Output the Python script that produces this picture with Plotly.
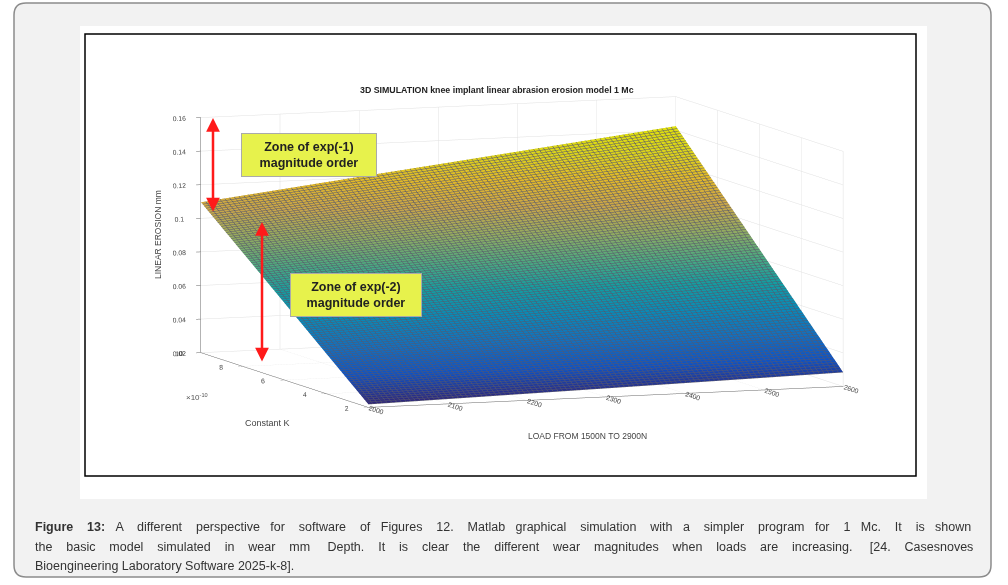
#######################################################################################################################
# Title:        Knee implant linear abrasion erosion - 3D surface (Figure 13 recreation)
#######################################################################################################################
import plotly.graph_objects as go

#######################################################################################################################
# Data
#######################################################################################################################
# load axis (N)
load = [2000, 2100, 2200, 2300, 2400, 2500, 2600]

# constant K (x 1e-10)
constK = [2, 4, 6, 8, 10]

# linear erosion (mm), rows = constK, cols = load
erosion = [
    [0.0219, 0.0230, 0.0241, 0.0252, 0.0263, 0.0274, 0.0285],
    [0.0438, 0.0460, 0.0482, 0.0504, 0.0526, 0.0548, 0.0570],
    [0.0658, 0.0690, 0.0723, 0.0756, 0.0789, 0.0822, 0.0855],
    [0.0877, 0.0921, 0.0964, 0.1008, 0.1052, 0.1096, 0.1140],
    [0.1096, 0.1151, 0.1206, 0.1260, 0.1315, 0.1370, 0.1425],
]

# ticks
loadTicks = [2000, 2100, 2200, 2300, 2400, 2500, 2600]
kTicks = [2, 4, 6, 8, 10]
zTicks = [0.02, 0.04, 0.06, 0.08, 0.10, 0.12, 0.14, 0.16]
zTickText = ['0.02', '0.04', '0.06', '0.08', '0.1', '0.12', '0.14', '0.16']

# texts
title = "3D SIMULATION knee implant linear abrasion erosion model 1 Mc"
capLines = [
    "<b>Figure 13:</b> A different perspective for software of Figures 12. Matlab graphical simulation with a simpler program for 1 Mc. It is shown",
    "the basic model simulated in wear mm Depth. It is clear the different wear magnitudes when loads are increasing. [24. Casesnoves",
    "Bioengineering Laboratory Software 2025-k-8].",
]
capExtra = [203, 214, 0]   # extra px spread over the word gaps (justified text)

#######################################################################################################################
# Helpers
#######################################################################################################################
W, H = 1008, 585
capSize = 12.5


def px(x):
    return x / W


def py(y):
    return 1 - y / H


def roundRect(x0, y0, x1, y1, r):
    rx, ry = r / W, r / H
    a0, b0, a1, b1 = px(x0), py(y0), px(x1), py(y1)
    return (f"M {a0 + rx} {b0} L {a1 - rx} {b0} Q {a1} {b0} {a1} {b0 - ry} "
            f"L {a1} {b1 + ry} Q {a1} {b1} {a1 - rx} {b1} "
            f"L {a0 + rx} {b1} Q {a0} {b1} {a0} {b1 + ry} "
            f"L {a0} {b0 - ry} Q {a0} {b0} {a0 + rx} {b0} Z")


def justify(line, extra):
    # pad word gaps with no-break spaces
    words = line.split(' ')
    if extra <= 0:
        return line
    per = extra / (0.2778 * capSize) / (len(words) - 1)
    out = words[0]
    for i, w in enumerate(words[1:]):
        n = round(per * (i + 1)) - round(per * i)
        out += ' ' + '\u00a0' * n + w
    return out


def label(x, y, text, size, color='#444', **kw):
    fig.add_annotation(x=px(x), y=py(y), xref='paper', yref='paper', text=text, showarrow=False,
                       xanchor=kw.pop('xanchor', 'center'), yanchor='middle',
                       font=dict(family=kw.pop('family', 'Liberation Sans, Arial'), size=size, color=color), **kw)


#######################################################################################################################
# Figure
#######################################################################################################################
# parula, slightly darkened to mimic the black mesh edges of the matlab surf
parulaRGB = [(53, 42, 135), (15, 92, 221), (18, 125, 216), (7, 156, 207), (21, 177, 180), (89, 189, 140),
             (165, 190, 107), (225, 185, 82), (252, 206, 46), (245, 236, 31), (249, 251, 14)]
dim = 0.9
parula = [[i / 10, 'rgb(%d,%d,%d)' % tuple(int(c * dim) for c in rgb)] for i, rgb in enumerate(parulaRGB)]
meshColor = 'rgba(10,10,30,0.7)'

fig = go.Figure()
fig.add_trace(go.Surface(
    x=load, y=constK, z=erosion, colorscale=parula, showscale=False,
    lighting=dict(ambient=1, diffuse=0, specular=0, roughness=1, fresnel=0),
    contours=dict(
        x=dict(show=True, start=2000, end=2600, size=6, color=meshColor, width=1, highlight=False),
        y=dict(show=True, start=2, end=10, size=0.08, color=meshColor, width=1, highlight=False),
        z=dict(highlight=False),
    ),
    hoverinfo='skip',
))

axStyle = dict(
    showbackground=True, backgroundcolor='white', gridcolor='#e0e0e0', gridwidth=1,
    showline=True, linecolor='#666', linewidth=1, ticks='outside', ticklen=5, tickcolor='#666',
    tickfont=dict(family='Liberation Sans, Arial', size=9, color='#444'),
    zeroline=False, showspikes=False, title=dict(text=''),
)

k = 2.3   # ortho zoom via aspect ratio
fig.update_layout(
    width=W, height=H, margin=dict(l=0, r=0, t=0, b=0),
    paper_bgcolor='white', showlegend=False,
    scene=dict(
        domain=dict(x=[px(122), px(922)], y=[py(472), py(32)]),
        xaxis=dict(axStyle, range=[2000, 2600], tickvals=loadTicks),
        yaxis=dict(axStyle, range=[2, 10], tickvals=kTicks),
        zaxis=dict(axStyle, range=[0.02, 0.16], tickvals=zTicks, ticktext=zTickText),
        aspectmode='manual', aspectratio=dict(x=1 * k, y=0.96 * k, z=0.468 * k),
        camera=dict(projection=dict(type='orthographic'), up=dict(x=0, y=0, z=1),
                    center=dict(x=0, y=0, z=0), eye=dict(x=-0.342 * 2, y=-0.932 * 2, z=0.12 * 2)),
        bgcolor='rgba(0,0,0,0)',
    ),
)

# ==============================================================================
# Page frame
# ==============================================================================
fig.add_shape(type='path', path=roundRect(14, 3, 991, 577, 12), xref='paper', yref='paper',
              fillcolor='#f2f2f2', line=dict(color='#8c8c8c', width=1.5), layer='below')
fig.add_shape(type='rect', x0=px(80), x1=px(927), y0=py(499), y1=py(26), xref='paper', yref='paper',
              fillcolor='white', line=dict(width=0), layer='below')
fig.add_shape(type='rect', x0=px(85), x1=px(916), y0=py(476), y1=py(34), xref='paper', yref='paper',
              fillcolor='rgba(0,0,0,0)', line=dict(color='black', width=1.5), layer='below')

# ==============================================================================
# Texts
# ==============================================================================
label(497, 90, '<b>' + title + '</b>', 8.8, '#222')
label(587, 436, 'LOAD FROM 1500N TO 2900N', 8.5)
label(267, 423, 'Constant K', 9)
label(158, 235, 'LINEAR EROSION mm', 8.5, textangle=-90)
label(197, 397, '\u00d710<sup>-10</sup>', 8, '#555')

# zone boxes
label(309, 155, '<b>Zone of exp(-1)<br>magnitude order</b>', 12.5, '#222', bgcolor='#e7f24c',
      bordercolor='#aaa', borderwidth=1, width=132, height=40)
label(356, 295, '<b>Zone of exp(-2)<br>magnitude order</b>', 12.5, '#222', bgcolor='#e7f24c',
      bordercolor='#aaa', borderwidth=1, width=128, height=40)

# red double arrows
for xa, ytop, ybot in [(213, 118, 213), (262, 222, 363)]:
    fig.add_annotation(x=px(xa), y=py(ytop), xref='paper', yref='paper', text='', showarrow=True,
                       ax=0, ay=ybot - ytop, arrowside='end+start', arrowhead=2, arrowsize=1.1,
                       arrowwidth=2.5, arrowcolor='#ff1a1a', standoff=0, startstandoff=0)

# caption
for i, line in enumerate(capLines):
    label(33, 527 + 19.5 * i, justify(line, capExtra[i]), capSize, '#333', xanchor='left')

fig.write_html("out.html", config={'displayModeBar': False},
               post_script="document.body.style.margin='0';")
